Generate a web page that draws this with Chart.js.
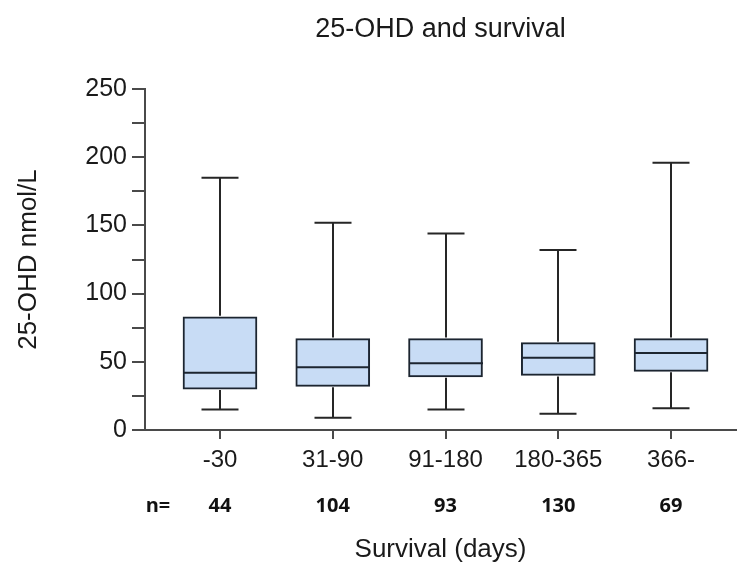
<!DOCTYPE html>
<html>
<head>
<meta charset="utf-8">
<script src="https://cdn.jsdelivr.net/npm/chart.js@4.4.1/dist/chart.umd.min.js"></script>
<style>
  html, body { margin: 0; padding: 0; background: #ffffff; }
  #wrap { position: relative; width: 737px; height: 563px; }
</style>
</head>
<body>
<div id="wrap"><canvas id="c"></canvas></div>
<script>
// ---- Data ----
const categories = ['-30', '31-90', '91-180', '180-365', '366-'];
const nValues    = [44, 104, 93, 130, 69];
const whiskerMin = [15, 9, 15, 12, 16];
const q1Values   = [30, 32, 39, 40, 43];
const medians    = [42, 46, 49, 53, 56.5];
const q3Values   = [83, 67, 67, 64, 67];
const whiskerMax = [185, 152, 144, 132, 196];
const yTicksMajor = [0, 50, 100, 150, 200, 250];

// ---- Style / layout constants ----
const FONT = '"Liberation Sans", Arial, sans-serif';
const BOX_W = 74;
const CAP_W = 37;
const AXIS_COLOR = '#4a4a4a';
const LINE_COLOR = '#262626';
const X_MIN = -0.665, X_MAX = 4.576;
const N_LABEL_POS = -0.55;

const boxPlugin = {
  id: 'boxWhiskers',
  afterDatasetsDraw(chart) {
    const { ctx, scales } = chart;
    const x = scales.x, y = scales.y;
    ctx.save();
    ctx.lineWidth = 2;
    ctx.lineCap = 'butt';
    categories.forEach((c, i) => {
      const cx = Math.round(x.getPixelForValue(i));
      const yMin = y.getPixelForValue(whiskerMin[i]);
      const yQ1 = y.getPixelForValue(q1Values[i]);
      const yMed = y.getPixelForValue(medians[i]);
      const yQ3 = y.getPixelForValue(q3Values[i]);
      const yMax = y.getPixelForValue(whiskerMax[i]);
      ctx.strokeStyle = LINE_COLOR;
      ctx.beginPath();
      // upper whisker
      ctx.moveTo(cx, yQ3 - 1); ctx.lineTo(cx, yMax);
      ctx.moveTo(cx - CAP_W / 2, yMax); ctx.lineTo(cx + CAP_W / 2, yMax);
      // lower whisker
      ctx.moveTo(cx, yQ1 + 1); ctx.lineTo(cx, yMin);
      ctx.moveTo(cx - CAP_W / 2, yMin); ctx.lineTo(cx + CAP_W / 2, yMin);
      ctx.stroke();
      // median
      ctx.strokeStyle = '#1c2530';
      ctx.beginPath();
      ctx.moveTo(cx - BOX_W / 2, yMed); ctx.lineTo(cx + BOX_W / 2, yMed);
      ctx.stroke();
    });
    ctx.restore();
  }
};

new Chart(document.getElementById('c'), {
  type: 'bar',
  data: {
    datasets: [{
      label: 'IQR',
      data: categories.map((c, i) => ({ x: i, y: [q1Values[i], q3Values[i]] })),
      backgroundColor: '#c8dcf5',
      borderColor: '#1c2530',
      borderWidth: 2,
      borderSkipped: false,
      barThickness: BOX_W,
      grouped: false
    }]
  },
  options: {
    responsive: true,
    maintainAspectRatio: false,
    animation: false,
    events: [],
    layout: { padding: { left: 0, right: 1, top: 0, bottom: 0 } },
    plugins: {
      legend: { display: false },
      tooltip: { enabled: false },
      title: {
        display: true,
        text: '25-OHD and survival',
        fullSize: false,
        color: '#1a1a1a',
        font: { family: FONT, size: 27, weight: 'normal' },
        padding: { top: 13.3, bottom: 43.3 }
      }
    },
    scales: {
      x: {
        type: 'linear',
        position: 'bottom',
        weight: 0,
        min: X_MIN,
        max: X_MAX,
        offset: false,
        afterBuildTicks: (s) => { s.ticks = categories.map((c, i) => ({ value: i })); },
        afterFit: (s) => { s.height = 48; },
        border: { display: true, color: AXIS_COLOR, width: 2 },
        grid: { display: true, offset: false, drawOnChartArea: false, drawTicks: true, tickLength: 9, color: AXIS_COLOR, lineWidth: 2 },
        ticks: {
          autoSkip: false, maxRotation: 0, minRotation: 0, padding: 7,
          color: '#1a1a1a',
          font: { family: FONT, size: 24 },
          callback: (v, i) => categories[i]
        }
      },
      x2: {
        type: 'linear',
        position: 'bottom',
        weight: 1,
        min: X_MIN,
        max: X_MAX,
        offset: false,
        afterBuildTicks: (s) => { s.ticks = [{ value: N_LABEL_POS }].concat(nValues.map((n, i) => ({ value: i }))); },
        afterFit: (s) => { s.height = 85; },
        border: { display: false },
        grid: { display: false, offset: false },
        ticks: {
          autoSkip: false, maxRotation: 0, minRotation: 0, padding: 8,
          color: '#111111',
          font: { family: '"Open Sans", "Noto Sans", sans-serif', size: 20, weight: 'bold' },
          callback: (v, i) => (i === 0 ? 'n=' : String(nValues[i - 1]))
        },
        title: {
          display: true,
          text: 'Survival (days)',
          color: '#1a1a1a',
          font: { family: FONT, size: 26, lineHeight: 1 },
          padding: { top: 0, bottom: 0 }
        }
      },
      y: {
        type: 'linear',
        min: 0,
        max: 250,
        afterFit: (s) => { s.width = 145; },
        border: { display: true, color: AXIS_COLOR, width: 2 },
        grid: { display: true, drawOnChartArea: false, drawTicks: true, tickLength: 13, color: AXIS_COLOR, lineWidth: 2 },
        ticks: {
          stepSize: 25,
          padding: 5,
          color: '#1a1a1a',
          font: { family: FONT, size: 25 },
          callback: (v) => (yTicksMajor.includes(v) ? String(v) : '')
        },
        title: {
          display: true,
          text: '25-OHD nmol/L',
          color: '#1a1a1a',
          font: { family: FONT, size: 26, lineHeight: 1 },
          padding: { top: 16, bottom: 0 }
        }
      }
    }
  },
  plugins: [boxPlugin]
});
</script>
</body>
</html>
